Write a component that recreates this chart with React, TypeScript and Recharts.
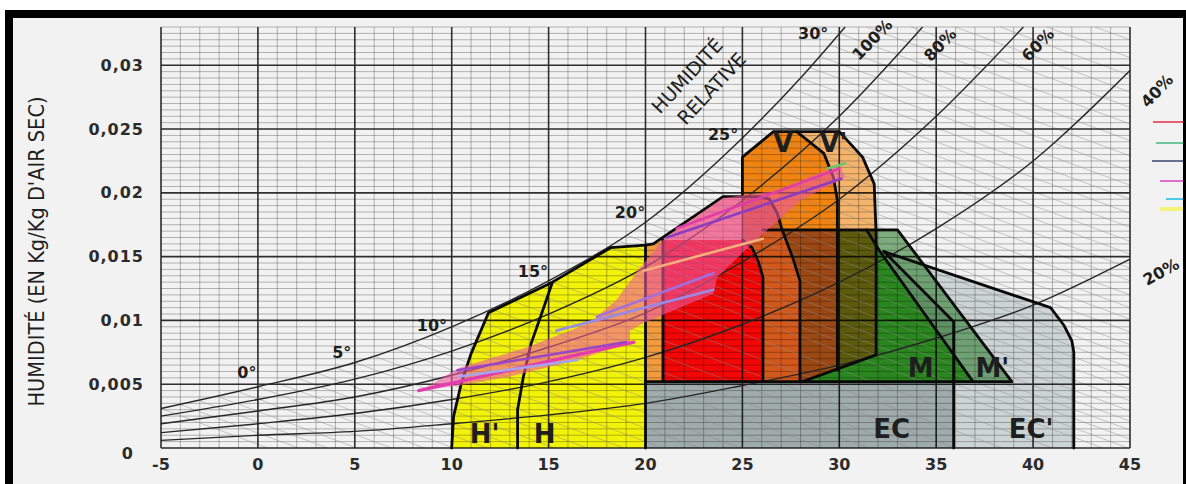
import React from 'react'
import { ComposedChart, Scatter, XAxis, YAxis, Legend, Label } from 'recharts'

type Pt = [number, number]

// axes
const X_DOMAIN: [number, number] = [-5, 45]
const Y_DOMAIN: [number, number] = [0, 0.033]
const X_TICKS = [-5, 0, 5, 10, 15, 20, 25, 30, 35, 40, 45]
const Y_TICKS = [0, 0.005, 0.01, 0.015, 0.02, 0.025, 0.03]
const Y_TICK_LABELS = ['0', '0,005', '0,01', '0,015', '0,02', '0,025', '0,03']
const X_MINOR = Array.from({ length: 51 }, (_, i) => -5 + i)
const Y_MINOR = Array.from({ length: 67 }, (_, i) => +(i * 0.0005).toFixed(4))

// relative humidity curves (°C, kg/kg)
const RH_100: Pt[] = [[-5, 0.0031], [0, 0.0048], [5, 0.0067], [10, 0.0095], [15, 0.0131], [20, 0.0177], [25, 0.0243], [28, 0.029], [30.3, 0.033]]
const RH_80: Pt[] = [[-5, 0.0025], [0, 0.0038], [5, 0.0054], [10, 0.0076], [15, 0.0105], [20, 0.0142], [25, 0.0194], [30, 0.026], [34.3, 0.033]]
const RH_60: Pt[] = [[-5, 0.0019], [0, 0.0029], [5, 0.004], [10, 0.0057], [15, 0.0079], [20, 0.0106], [25, 0.0146], [30, 0.0195], [35, 0.026], [39.5, 0.033]]
const RH_40: Pt[] = [[-5, 0.0012], [0, 0.0019], [5, 0.0027], [10, 0.0038], [15, 0.0052], [20, 0.0071], [25, 0.0097], [30, 0.013], [35, 0.0172], [40, 0.0225], [45, 0.0296]]
const RH_20: Pt[] = [[-5, 0.0006], [0, 0.001], [5, 0.0013], [10, 0.0019], [15, 0.0026], [20, 0.0035], [25, 0.0049], [30, 0.0065], [35, 0.0086], [40, 0.0112], [45, 0.0148]]

// wet-bulb lines: [t start, w start, t end, w end]
const WET_BULB: [number, number, number, number][] = [
  [-5, 0.0031, 0.5, 0], [-4, 0.0034, 2.1, 0], [-3, 0.0037, 3.6, 0], [-2, 0.004, 5.1, 0],
  [-1, 0.0044, 6.9, 0], [0, 0.0048, 8.6, 0], [1, 0.0051, 10.1, 0], [2, 0.0055, 11.8, 0],
  [3, 0.0059, 13.5, 0], [4, 0.0063, 15.3, 0], [5, 0.0067, 17, 0], [6, 0.0072, 18.9, 0],
  [7, 0.0078, 20.9, 0], [8, 0.0083, 22.8, 0], [9, 0.0089, 24.9, 0], [10, 0.0095, 27, 0],
  [11, 0.0102, 29.2, 0], [12, 0.0109, 31.5, 0], [13, 0.0116, 33.7, 0], [14, 0.0123, 36, 0],
  [15, 0.0131, 38.4, 0], [16, 0.014, 41, 0], [17, 0.0149, 43.6, 0], [17.5, 0.0154, 44.9, 0],
  [18, 0.0158, 45, 0.0007], [18.5, 0.0163, 45, 0.0014], [19, 0.0167, 45, 0.0021], [19.5, 0.0172, 45, 0.0029],
  [20, 0.0177, 45, 0.0037], [20.5, 0.0183, 45, 0.0046], [21, 0.0189, 45, 0.0055], [21.5, 0.0195, 45, 0.0063],
  [22, 0.0201, 45, 0.0072], [22.5, 0.0207, 45, 0.0081], [23, 0.0214, 45, 0.0091], [23.5, 0.0221, 45, 0.0101],
  [24, 0.0228, 45, 0.011], [24.5, 0.0235, 45, 0.012], [25, 0.0243, 45, 0.0131], [25.5, 0.025, 45, 0.0141],
  [26, 0.0258, 45, 0.0152], [26.5, 0.0266, 45, 0.0162], [27, 0.0274, 45, 0.0173], [27.5, 0.0282, 45, 0.0184],
  [28, 0.029, 45, 0.0195], [28.5, 0.0298, 45, 0.0206], [29, 0.0307, 45, 0.0217], [29.5, 0.0316, 45, 0.0229],
  [30, 0.0325, 45, 0.0241], [31.4, 0.033, 45, 0.0254], [33.7, 0.033, 45, 0.0267], [36.0, 0.033, 45, 0.0279],
  [38.3, 0.033, 45, 0.0292], [40.7, 0.033, 45, 0.0306], [43.2, 0.033, 45, 0.032],
]

// zones
const ZONE_EC2: Pt[] = [[20, 0], [20, 0.0052], [32.3, 0.0154], [40.9, 0.011], [41.6, 0.0096], [42.0, 0.0084], [42.1, 0.0075], [42.1, 0]]
const ZONE_EC: Pt[] = [[20, 0], [20, 0.0052], [32.3, 0.0154], [35.9, 0.0099], [35.9, 0]]
const ZONE_M2: Pt[] = [[26.06, 0.0171], [33.0, 0.0171], [38.9, 0.0052], [26.06, 0.0052]]
const ZONE_M: Pt[] = [[26.06, 0.0052], [26.06, 0.0171], [31.4, 0.0171], [32.1, 0.0154], [36.9, 0.0052]]
const ZONE_V2: Pt[] = [[27.8, 0.0248], [30.0, 0.0248], [31.2, 0.0228], [31.8, 0.0207], [31.9, 0.0171], [27.4, 0.0171]]
const ZONE_V: Pt[] = [[25.0, 0.0171], [25.0, 0.0228], [26.6, 0.0248], [27.8, 0.0248], [29.2, 0.0231], [29.7, 0.0212], [29.9, 0.0194], [29.9, 0.0171]]
const ZONE_V2_MASS: Pt[] = [[29.9, 0.0062], [29.9, 0.0171], [31.9, 0.0171], [31.9, 0.0073]]
const ZONE_V_MASS: Pt[] = [[27.97, 0.0052], [27.97, 0.0131], [27.6, 0.0149], [27.05, 0.0171], [29.9, 0.0171], [29.9, 0.0062], [28.1, 0.0052]]
const ZONE_N2: Pt[] = [[20, 0.0052], [20, 0.0159], [20.4, 0.016], [24.0, 0.0197], [25.9, 0.0197], [26.4, 0.0195], [26.8, 0.0184], [27.05, 0.0171], [27.6, 0.0149], [27.97, 0.0131], [27.97, 0.0052]]
const ZONE_N2_V: Pt[] = [[25.0, 0.0163], [25.0, 0.0197], [25.9, 0.0197], [26.4, 0.0195], [26.8, 0.0184], [27.05, 0.0171], [27.6, 0.0149], [27.97, 0.0131], [27.97, 0.0052], [26.06, 0.0052], [26.06, 0.0134], [25.8, 0.0147], [25.5, 0.0157]]
const ZONE_N: Pt[] = [[20.9, 0.0052], [20.9, 0.0163], [25.0, 0.0163], [25.5, 0.0157], [25.8, 0.0147], [26.06, 0.0134], [26.06, 0.0052]]
const ZONE_STRIP: Pt[] = [[20, 0.0052], [20, 0.0159], [20.4, 0.016], [20.9, 0.0163], [20.9, 0.0052]]
const ZONE_H: Pt[] = [[10, 0], [10.1, 0.0025], [10.5, 0.0051], [11, 0.0074], [11.9, 0.0106], [15.2, 0.013], [18.2, 0.0157], [20, 0.0159], [20, 0]]

// zone borders
const BORDERS: Pt[][] = [
  [[10, 0], [10.1, 0.0025], [10.5, 0.0051], [11, 0.0074], [11.9, 0.0106], [15.2, 0.013], [18.2, 0.0157], [20, 0.0159], [20.4, 0.016], [24.0, 0.0197], [25.9, 0.0197], [26.4, 0.0195], [26.8, 0.0184], [27.05, 0.0171], [27.6, 0.0149], [27.97, 0.0131], [27.97, 0.0052]],
  [[15.2, 0.013], [14.7, 0.0108], [14.1, 0.0082], [13.7, 0.0056], [13.4, 0.003], [13.4, 0]],
  [[20, 0.0159], [20, 0]],
  [[20.9, 0.0163], [20.9, 0.0052]],
  [[25.0, 0.0163], [25.5, 0.0157], [25.8, 0.0147], [26.06, 0.0134], [26.06, 0.0052]],
  [[20, 0.0052], [38.9, 0.0052]],
  [[25.0, 0.0197], [25.0, 0.0228], [26.6, 0.0248], [30.0, 0.0248], [31.2, 0.0228], [31.8, 0.0207], [31.9, 0.0168], [31.9, 0.0073]],
  [[27.8, 0.0248], [29.2, 0.0231], [29.7, 0.0212], [29.9, 0.0194], [29.9, 0.0061]],
  [[28.1, 0.0052], [31.9, 0.0073]],
  [[26.06, 0.0171], [33.0, 0.0171], [38.9, 0.0052]],
  [[31.4, 0.0171], [32.1, 0.0154], [36.9, 0.0052]],
  [[32.3, 0.0154], [35.9, 0.0099], [35.9, 0]],
  [[32.3, 0.0154], [40.9, 0.011], [41.6, 0.0096], [42.0, 0.0084], [42.1, 0.0075], [42.1, 0]],
]

// climate readings
const CLIMATE_BAND: Pt[] = [
  [8.4, 0.0045], [10.4, 0.0063], [13.9, 0.0079], [17.1, 0.0098], [18.5, 0.0116], [19.6, 0.0139], [20.9, 0.0163],
  [24.0, 0.0196], [26.8, 0.0202], [30.0, 0.0222], [30.3, 0.0212], [28.0, 0.0194], [25.7, 0.0163], [23.7, 0.0134],
  [23.5, 0.0121], [19.9, 0.0098], [19.2, 0.0092], [19.2, 0.0083], [16.5, 0.0069], [13.0, 0.0056], [10.4, 0.0049],
]
const CLIMATE_LINES: Pt[][] = [
  [[8.3, 0.0045], [19.4, 0.0083]],
  [[10.3, 0.0061], [19.0, 0.0083]],
  [[10.4, 0.0056], [16.5, 0.0069]],
  [[15.4, 0.0092], [23.5, 0.0124]],
  [[17.5, 0.0103], [23.5, 0.0137]],
  [[19.9, 0.0139], [26.05, 0.0164]],
  [[21.1, 0.0165], [30.1, 0.0211]],
  [[21.6, 0.0172], [30.0, 0.0219]],
  [[29.4, 0.0219], [30.3, 0.0223]],
]
const CLIMATE_COLORS = ['#e43cae', '#9b45c8', '#a4a4f0', '#9a8ae8', '#a070e0', '#f7ae7e', '#8c3cc0', '#e03caa', '#6cc66c']
const LEGEND_COLORS = ['#e8606e', '#6cc89a', '#66708e', '#e26ad0', '#4ccbe6', '#f4f47a']

// annotations
const TEMP_LABELS = [
  { x: -0.57, y: 0.00595, text: '0°' }, { x: 4.33, y: 0.0075, text: '5°' }, { x: 8.98, y: 0.00963, text: '10°' },
  { x: 14.19, y: 0.01386, text: '15°' }, { x: 19.2, y: 0.01849, text: '20°' }, { x: 24.0, y: 0.0246, text: '25°' },
  { x: 28.65, y: 0.0325, text: '30°' },
]
const RH_LABELS = [
  { x: 31.7, y: 0.032, text: '100%' }, { x: 35.2, y: 0.0316, text: '80%' }, { x: 40.25, y: 0.0316, text: '60%' },
  { x: 45, y: 0.028, text: '40%' }, { x: 45, y: 0.0138, text: '20%' },
]
const TITLE_LABELS = [{ x: 22.14, y: 0.0292, text: 'HUMIDITÉ' }, { x: 23.4, y: 0.0282, text: 'RELATIVE' }]
const ZONE_LABELS = [
  { x: 11.7, y: 0.0011, text: "H'" }, { x: 14.8, y: 0.0011, text: 'H' }, { x: 27.1, y: 0.0239, text: 'V' },
  { x: 29.7, y: 0.0239, text: "V'" }, { x: 34.2, y: 0.0063, text: 'M' }, { x: 37.9, y: 0.0063, text: "M'" },
  { x: 32.7, y: 0.0015, text: 'EC' }, { x: 39.9, y: 0.0015, text: "EC'" },
]
const RH_LABEL_STYLE: Record<string, { dx: number; angle: number }> = {
  '40%': { dx: 27, angle: -46 },
  '20%': { dx: 31, angle: -29 },
}

const FONT = '"DejaVu Sans", Verdana, sans-serif'

const toData = (a: Pt[]) => a.map(([x, y]) => ({ x, y }))
const noDot = () => <g />
const toPath = (p: { x: number; y: number }[]) => p.map((q, i) => `${i ? 'L' : 'M'}${q.x},${q.y}`).join(' ')

const polygon = (fill: string, opacity = 1) => (props: any) => (
  <path d={toPath(props.points) + ' Z'} fill={fill} fillOpacity={opacity} stroke="none" />
)
const polyline = (stroke: string, width: number, opacity = 1) => (props: any) => (
  <path d={toPath(props.points)} fill="none" stroke={stroke} strokeWidth={width} strokeOpacity={opacity}
    strokeLinejoin="round" strokeLinecap="round" />
)
const segments = (stroke: string, width: number, opacity = 1) => (props: any) => {
  const p = props.points
  let d = ''
  for (let i = 0; i + 1 < p.length; i += 2) d += `M${p[i].x},${p[i].y}L${p[i + 1].x},${p[i + 1].y}`
  return <path d={d} fill="none" stroke={stroke} strokeWidth={width} strokeOpacity={opacity} />
}

const textShape = (size: number, weight: string | number, angle = 0) => (p: any) => {
  const s = RH_LABEL_STYLE[p.payload.text]
  const x = p.cx + (s ? s.dx : 0)
  const a = s ? s.angle : angle
  return (
    <text x={x} y={p.cy} textAnchor="middle" dominantBaseline="central" fontFamily={FONT}
      fontSize={size} fontWeight={weight} fill="#1e1e1e"
      transform={a ? `rotate(${a} ${x} ${p.cy})` : undefined}>
      {p.payload.text}
    </text>
  )
}

const minorGrid = [
  ...X_MINOR.flatMap((x) => [{ x, y: 0 }, { x, y: 0.033 }]),
  ...Y_MINOR.flatMap((y) => [{ x: -5, y }, { x: 45, y }]),
]
const majorGrid = [
  ...X_TICKS.flatMap((x) => [{ x, y: 0 }, { x, y: 0.033 }]),
  ...Y_TICKS.flatMap((y) => [{ x: -5, y }, { x: 45, y }]),
]
const wetBulb = WET_BULB.flatMap(([a, b, c, d]) => [{ x: a, y: b }, { x: c, y: d }])

const XTick = (props: any) => (
  <text x={props.x} y={props.y} dy="0.75em" textAnchor="middle" fontFamily={FONT} fontSize={16}
    fontWeight="bold" fill="#2b2b2b">
    {props.payload.value}
  </text>
)

const YTick = (props: any) => {
  const i = Y_TICKS.indexOf(props.payload.value)
  const zero = props.payload.value === 0
  return (
    <text x={props.x + (zero ? -10 : 0)} y={props.y + (zero ? 5 : 0)} textAnchor="end" dominantBaseline="central"
      fontFamily={FONT} fontSize={16} fontWeight="bold" letterSpacing={1} fill="#2b2b2b">
      {Y_TICK_LABELS[i]}
    </text>
  )
}

const YTitle = (props: any) => {
  const vb = props.viewBox
  const cx = vb ? vb.x + 5 : 36
  const cy = vb ? vb.y + vb.height / 2 + 14 : 252
  return (
    <text x={cx} y={cy} transform={`rotate(-90 ${cx} ${cy})`} textAnchor="middle" dominantBaseline="central"
      fontFamily={FONT} fontSize={22} fill="#1e1e1e" textLength={310} lengthAdjust="spacingAndGlyphs">
      HUMIDITÉ (EN Kg/Kg D'AIR SEC)
    </text>
  )
}

const LEGEND_X = [3, 6, 2, 10, 16, 10]
const LEGEND_Y = [10, 31, 49, 69, 87, 97]
const LegendSwatches = () => (
  <svg width={36} height={104}>
    {LEGEND_COLORS.map((c, i) => (
      <line key={c} x1={LEGEND_X[i]} x2={33} y1={LEGEND_Y[i]} y2={LEGEND_Y[i]} stroke={c} strokeWidth={i === 5 ? 4 : 2} />
    ))}
  </svg>
)

const zoneFills: [Pt[], string, number][] = [
  [ZONE_EC2, '#cdd4d4', 1],
  [ZONE_EC, '#a0abab', 1],
  [ZONE_M2, '#2f7f2f', 0.6],
  [ZONE_M, '#2a861e', 1],
  [ZONE_V2, '#f4b46c', 1],
  [ZONE_V, '#f28310', 1],
  [ZONE_V2_MASS, '#5c5a0c', 1],
  [ZONE_V_MASS, '#9c4814', 1],
  [ZONE_N2, '#f4a39a', 1],
  [ZONE_N2_V, '#d2581c', 1],
  [ZONE_N, '#f20606', 1],
  [ZONE_STRIP, '#f29a3c', 1],
  [ZONE_H, '#f2f20a', 1],
]

export default function App() {
  return (
    <div style={{ position: 'absolute', left: 0, top: 0, width: 1186, height: 484, overflow: 'hidden', background: '#fff' }}>
      <div style={{ position: 'absolute', left: 5, top: 10, width: 1186, height: 490, boxSizing: 'border-box', border: '8px solid #000', background: '#f2f2f2' }} />
      <div style={{ position: 'absolute', left: 0, top: 0 }}>
        <ComposedChart width={1186} height={484} margin={{ top: 27, right: 56, bottom: 6, left: 31 }}>
          <XAxis type="number" dataKey="x" domain={X_DOMAIN} ticks={X_TICKS} interval={0} axisLine={false}
            tickLine={false} tickMargin={4} height={30} tick={<XTick />} />
          <YAxis type="number" dataKey="y" domain={Y_DOMAIN} ticks={Y_TICKS} interval={0} axisLine={false}
            tickLine={false} tickMargin={11} width={130} tick={<YTick />}>
            <Label content={YTitle} />
          </YAxis>

          {/* comfort / strategy zones */}
          {zoneFills.map(([z, c, o], i) => (
            <Scatter key={`zone-${i}`} data={toData(z)} shape={noDot} line={polygon(c, o)} legendType="none" isAnimationActive={false} />
          ))}

          {/* grid and wet-bulb lines */}
          <Scatter data={minorGrid} shape={noDot} line={segments('#000', 1, 0.27)} legendType="none" isAnimationActive={false} />
          <Scatter data={wetBulb} shape={noDot} line={segments('#8c8c8c', 1, 0.45)} legendType="none" isAnimationActive={false} />
          <Scatter data={majorGrid} shape={noDot} line={segments('#000', 1.6, 0.75)} legendType="none" isAnimationActive={false} />

          {/* relative humidity curves */}
          {[RH_100, RH_80, RH_60, RH_40, RH_20].map((c, i) => (
            <Scatter key={`rh-${i}`} data={toData(c)} shape={noDot} lineJointType="monotoneX"
              line={{ stroke: '#262626', strokeWidth: 1.4, fill: 'none' }} legendType="none" isAnimationActive={false} />
          ))}

          {/* zone borders */}
          {BORDERS.map((b, i) => (
            <Scatter key={`border-${i}`} data={toData(b)} shape={noDot} line={polyline('#0a0a0a', 2.8)} legendType="none" isAnimationActive={false} />
          ))}

          {/* climate readings */}
          <Scatter data={toData(CLIMATE_BAND)} shape={noDot} line={polygon('#ee5a9e', 0.6)} legendType="none" isAnimationActive={false} />
          {CLIMATE_LINES.map((l, i) => (
            <Scatter key={`clim-${i}`} data={toData(l)} shape={noDot} line={polyline(CLIMATE_COLORS[i], i === 0 ? 3.2 : 2.6)} legendType="none" isAnimationActive={false} />
          ))}

          {/* text */}
          <Scatter data={TEMP_LABELS} shape={textShape(16, 'bold')} legendType="none" isAnimationActive={false} />
          <Scatter data={RH_LABELS} shape={textShape(16, 'bold', -46)} legendType="none" isAnimationActive={false} />
          <Scatter data={TITLE_LABELS} shape={textShape(19, 'normal', -47)} legendType="none" isAnimationActive={false} />
          <Scatter data={ZONE_LABELS} shape={textShape(26, 'bold')} legendType="none" isAnimationActive={false} />

          <Legend layout="vertical" align="center" verticalAlign="middle" content={LegendSwatches}
            wrapperStyle={{ left: 1150, top: 112, width: 36, height: 104 }} />
        </ComposedChart>
      </div>
    </div>
  )
}
